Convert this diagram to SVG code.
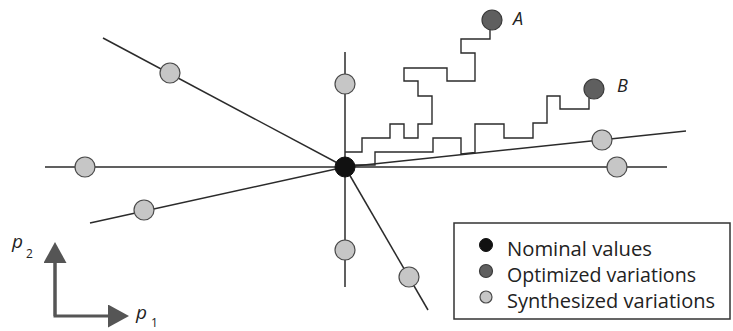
<svg xmlns="http://www.w3.org/2000/svg" width="733" height="331" viewBox="0 0 733 331">
  <defs>
    <style>
      .ray { stroke: #2b2b2b; stroke-width: 1.5; fill: none; }
      .walk { stroke: #2b2b2b; stroke-width: 1.4; fill: none; stroke-linejoin: miter; }
      .synth { fill: #c6c6c6; stroke: #4a4a4a; stroke-width: 1.2; }
      .opt { fill: #5f5f5f; stroke: #3a3a3a; stroke-width: 1.2; }
      .nom { fill: #111; stroke: #111; stroke-width: 1; }
      .axis { stroke: #555; stroke-width: 3; fill: none; }
      .lbl { font-family: "Open Sans", "DejaVu Sans", sans-serif; font-style: italic; fill: #222; }
      .sub { font-family: "Open Sans", "DejaVu Sans", sans-serif; font-style: normal; font-size: 12px; fill: #222; }
      .leg { font-family: "Open Sans", "DejaVu Sans", sans-serif; font-size: 19.5px; fill: #222; }
    </style>
    <marker id="head" markerUnits="userSpaceOnUse" markerWidth="22" markerHeight="24" refX="0" refY="11.5" orient="auto">
      <path d="M0,0 L21,11.5 L0,23 z" fill="#555"/>
    </marker>
  </defs>
  <rect width="733" height="331" fill="#fff"/>

  <!-- straight variation directions and the two optimisation walks -->
  <g id="connectors">
    <line class="ray" x1="103" y1="38" x2="345" y2="167"/>
    <line class="ray" x1="45" y1="167" x2="667" y2="167"/>
    <line class="ray" x1="90" y1="223" x2="345" y2="167"/>
    <line class="ray" x1="345" y1="52" x2="345" y2="287"/>
    <line class="ray" x1="345" y1="167" x2="428" y2="310"/>
    <line class="ray" x1="345" y1="167" x2="686" y2="131"/>
    <path class="walk" d="M345,152 H362 V138 H390 V124 H404 V138 H418 V124 H432 V96 H418 V81 H404 V68 H447 V81 H475 V53 H461 V39 H490 V28"/>
    <path class="walk" d="M345,165 H375 V152 H433 V138 H461 V154 L475,152.5 V124 H504 V138 H533 V123 H547 V96 H560 V109 H589 V98"/>
  </g>

  <!-- synthesized variations -->
  <g id="s-upleft"><circle class="synth" cx="170" cy="73" r="10"/></g>
  <g id="s-left"><circle class="synth" cx="85" cy="167" r="10"/></g>
  <g id="s-lowleft"><circle class="synth" cx="144" cy="210" r="10"/></g>
  <g id="s-up"><circle class="synth" cx="345" cy="84" r="10"/></g>
  <g id="s-down"><circle class="synth" cx="345" cy="250" r="10"/></g>
  <g id="s-lowright"><circle class="synth" cx="409" cy="277" r="10"/></g>
  <g id="s-upright"><circle class="synth" cx="602" cy="140" r="10"/></g>
  <g id="s-right"><circle class="synth" cx="617" cy="167" r="10"/></g>

  <!-- nominal point -->
  <g id="nominal"><circle class="nom" cx="345" cy="167" r="10"/></g>

  <!-- optimized variations -->
  <g id="opt-a">
    <circle class="opt" cx="492" cy="20" r="10"/>
    <text class="lbl" x="513" y="25" font-size="18">A</text>
  </g>
  <g id="opt-b">
    <circle class="opt" cx="594" cy="89" r="10"/>
    <text class="lbl" x="617" y="92" font-size="18">B</text>
  </g>

  <!-- parameter axes -->
  <g id="axes">
    <polyline class="axis" points="55,263 55,316 108,316" marker-end="url(#head)"/>
    <line class="axis" x1="55" y1="316" x2="55" y2="263" marker-end="url(#head)"/>
    <text class="lbl" x="12" y="248" font-size="19">p</text>
    <text class="sub" x="26" y="258">2</text>
    <text class="lbl" x="136" y="319" font-size="19">p</text>
    <text class="sub" x="151" y="327" font-size="11.5">1</text>
  </g>

  <!-- legend -->
  <g id="legend">
    <rect x="454" y="223" width="276" height="96" fill="#fff" stroke="#333" stroke-width="1.5"/>
    <circle class="nom" cx="486" cy="245" r="6.5"/>
    <circle class="opt" cx="486" cy="271" r="6.5"/>
    <circle class="synth" cx="486" cy="297" r="6"/>
    <text class="leg" x="507" y="256" textLength="145" lengthAdjust="spacingAndGlyphs">Nominal values</text>
    <text class="leg" x="507" y="282" textLength="189" lengthAdjust="spacingAndGlyphs">Optimized variations</text>
    <text class="leg" x="507" y="308" textLength="208" lengthAdjust="spacingAndGlyphs">Synthesized variations</text>
  </g>
</svg>
